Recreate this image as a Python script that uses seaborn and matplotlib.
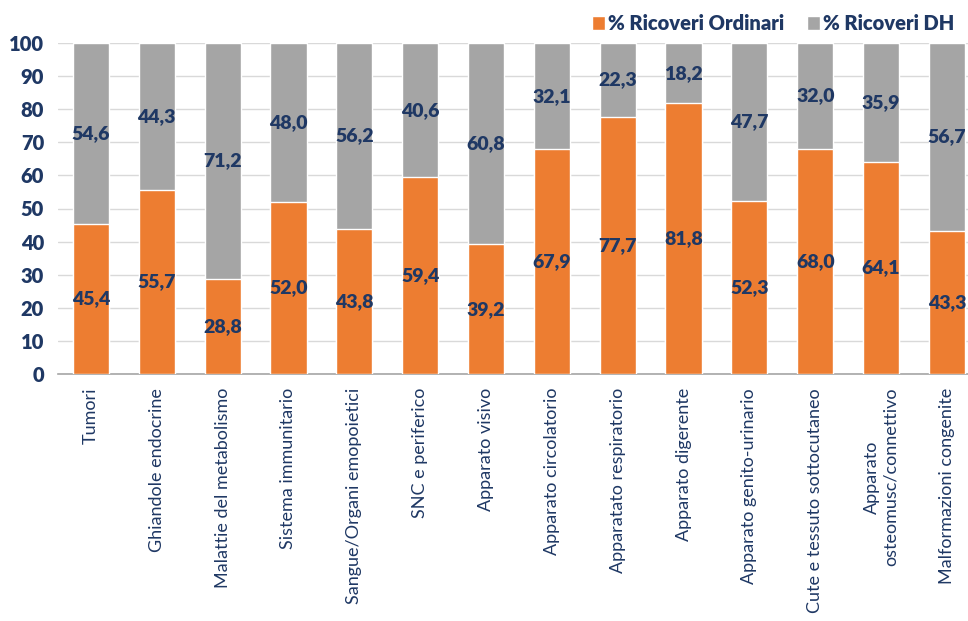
import matplotlib
matplotlib.use("Agg")
import matplotlib.pyplot as plt
from matplotlib.patches import Patch
import seaborn as sns
import pandas as pd

categorie = [
    "Tumori", "Ghiandole endocrine", "Malattie del metabolismo",
    "Sistema immunitario", "Sangue/Organi emopoietici", "SNC e periferico",
    "Apparato visivo", "Apparato circolatorio", "Apparatato respiratorio",
    "Apparato digerente", "Apparato genito-urinario",
    "Cute e tessuto sottocutaneo", "Apparato\nosteomusc/connettivo",
    "Malformazioni congenite",
]
ricoveri_ordinari = [45.4, 55.7, 28.8, 52.0, 43.8, 59.4, 39.2, 67.9, 77.7, 81.8, 52.3, 68.0, 64.1, 43.3]
ricoveri_dh = [54.6, 44.3, 71.2, 48.0, 56.2, 40.6, 60.8, 32.1, 22.3, 18.2, 47.7, 32.0, 35.9, 56.7]

ARANCIO = "#ED7D31"
GRIGIO = "#A5A5A5"
BLU = "#1F3864"

sns.set_theme(style="white")
plt.rcParams["font.family"] = ["Lato", "DejaVu Sans"]

df = pd.DataFrame({
    "categoria": categorie,
    "ordinari": ricoveri_ordinari,
    "dh": ricoveri_dh,
})
df["totale"] = df["ordinari"] + df["dh"]

fig = plt.figure(figsize=(9.68, 6.21), dpi=100)
ax = fig.add_axes([58 / 968, 1 - 374 / 621, (968 - 58) / 968, (374 - 43) / 621])

sns.barplot(data=df, x="categoria", y="totale", color=GRIGIO, width=0.55,
            edgecolor="white", linewidth=1.0, saturation=1, ax=ax, zorder=2)
sns.barplot(data=df, x="categoria", y="ordinari", color=ARANCIO, width=0.55,
            edgecolor="white", linewidth=1.0, saturation=1, ax=ax, zorder=3)

PESO = "heavy"

def fmt(v):
    return f"{v:.1f}".replace(".", ",")

for i, (o, d) in enumerate(zip(ricoveri_ordinari, ricoveri_dh)):
    ax.text(i, o / 2, fmt(o), ha="center", va="center", color=BLU,
            fontsize=14, fontweight=PESO, zorder=5)
    ax.text(i, o + d / 2, fmt(d), ha="center", va="center", color=BLU,
            fontsize=14, fontweight=PESO, zorder=5)

ax.set_ylim(0, 100)
ax.set_xlim(-0.5, 13.32)
ax.set_yticks(range(0, 101, 10))
ax.yaxis.grid(True, color="#D9D9D9", linewidth=1.0, zorder=0)
ax.set_axisbelow(True)
for s in ["top", "right", "left"]:
    ax.spines[s].set_visible(False)
ax.spines["bottom"].set_color("#A6A6A6")
ax.spines["bottom"].set_linewidth(1.2)
ax.set_xlabel("")
ax.set_ylabel("")
ax.tick_params(axis="y", length=0, pad=10, labelsize=14.5, labelcolor=BLU)
for t in ax.get_yticklabels():
    t.set_fontweight(PESO)
ax.tick_params(axis="x", length=0, pad=10, labelsize=13, labelcolor=BLU)
ax.set_xticks(range(len(categorie)))
ax.set_xticklabels(categorie, rotation=90, va="top", ha="center",
                   multialignment="center")

handles = [Patch(facecolor=ARANCIO, edgecolor="white"),
           Patch(facecolor=GRIGIO, edgecolor="white")]
leg = fig.legend(handles, ["% Ricoveri Ordinari", "% Ricoveri DH"],
                 loc="upper right", bbox_to_anchor=(1.0, 1.0), ncol=2,
                 frameon=False, handlelength=0.65, handleheight=0.65,
                 handletextpad=0.15, columnspacing=1.1, borderaxespad=0.3,
                 prop={"weight": PESO, "size": 14.5})
for t in leg.get_texts():
    t.set_color(BLU)

fig.savefig("out.png", dpi=100)
